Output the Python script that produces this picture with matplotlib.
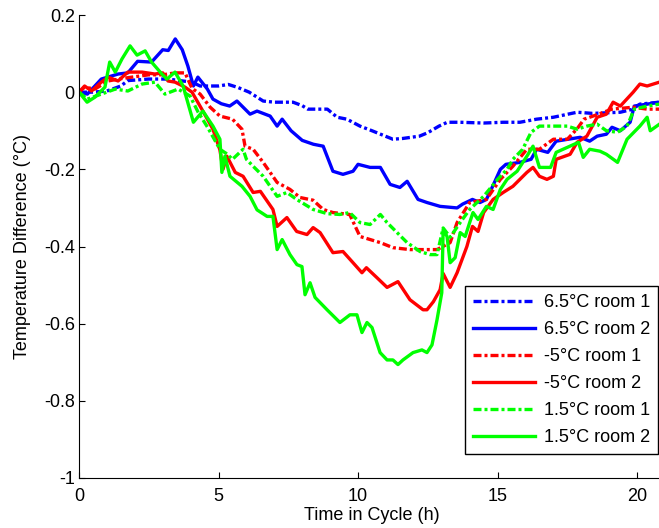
import matplotlib.pyplot as plt
from matplotlib.ticker import FormatStrFormatter

plt.rcParams['font.family'] = ['Liberation Sans', 'DejaVu Sans']

# ===== 数据=====
# 6.5°C room 1
x_b1 = [0, 0.5, 1.0, 1.5, 1.75, 2.5, 3.2, 3.6, 4.05, 4.34, 5.0, 5.35, 5.7, 6.1, 6.6, 7.0, 7.67, 8.0, 8.2,
        8.9, 9.25, 9.6, 10.07, 10.5, 11.25, 11.6, 12.2, 12.5, 12.9, 13.2, 13.65, 14.5, 15.2, 15.8, 16.4, 17.0,
        17.85, 18.4, 19.4, 19.8, 20.1, 20.8]
y_b1 = [0, 0.0, 0.003, 0.016, 0.03, 0.034, 0.034, 0.03, 0.026, 0.016, 0.016, 0.02, 0.012, 0.0, -0.023, -0.026,
        -0.026, -0.035, -0.044, -0.044, -0.065, -0.07, -0.088, -0.1, -0.122, -0.12, -0.114, -0.105, -0.088,
        -0.078, -0.078, -0.08, -0.078, -0.078, -0.07, -0.065, -0.052, -0.055, -0.052, -0.045, -0.031, -0.026]

# 6.5°C room 2
x_b2 = [0, 0.3, 0.8, 1.4, 1.75, 2.1, 2.6, 3.0, 3.2, 3.45, 3.7, 3.9, 4.1, 4.26, 4.6, 4.8, 5.1, 5.4, 5.66, 6.13,
        6.38, 6.85, 7.1, 7.28, 7.6, 8.0, 8.4, 8.75, 9.1, 9.46, 9.82, 10.0, 10.43, 10.8, 11.15, 11.5, 11.76,
        12.15, 12.47, 12.94, 13.55, 13.75, 14.1, 14.37, 14.6, 14.85, 15.1, 15.3, 15.8, 16.2, 16.4, 16.8, 17.1,
        17.96, 18.3, 18.57, 18.9, 19.1, 19.4, 19.75, 19.9, 20.36, 20.8]
y_b2 = [0, -0.005, 0.034, 0.047, 0.05, 0.08, 0.078, 0.11, 0.108, 0.138, 0.11, 0.068, 0.016, 0.039, 0.008,
        -0.018, -0.03, -0.036, -0.023, -0.057, -0.049, -0.062, -0.088, -0.07, -0.1, -0.125, -0.135, -0.14,
        -0.205, -0.213, -0.205, -0.187, -0.195, -0.195, -0.239, -0.247, -0.231, -0.278, -0.286, -0.296, -0.3,
        -0.29, -0.278, -0.286, -0.278, -0.24, -0.2, -0.187, -0.182, -0.174, -0.148, -0.156, -0.127, -0.117,
        -0.127, -0.114, -0.109, -0.091, -0.1, -0.078, -0.036, -0.031, -0.026]

# -5°C room 1
x_r1 = [0, 0.2, 0.57, 1.04, 1.5, 2.0, 2.5, 3.0, 3.44, 3.8, 4.05, 4.34, 4.7, 5.05, 5.5, 5.84, 5.95, 6.24, 6.6,
        7.1, 7.56, 7.92, 8.39, 8.75, 9.1, 9.7, 10.07, 10.8, 11.25, 11.86, 12.83, 13.3, 13.55, 14.0, 14.6, 15.1,
        15.55, 16.05, 16.5, 17.0, 17.5, 17.85, 18.1, 18.5, 19.1, 19.86, 20.36, 20.8]
y_r1 = [0, 0.013, 0.008, 0.029, 0.035, 0.04, 0.045, 0.045, 0.05, 0.05, 0.01, -0.005, -0.039, -0.062, -0.07,
        -0.096, -0.14, -0.148, -0.182, -0.234, -0.252, -0.273, -0.28, -0.304, -0.312, -0.317, -0.374, -0.39,
        -0.403, -0.408, -0.408, -0.39, -0.338, -0.286, -0.278, -0.226, -0.192, -0.148, -0.148, -0.122, -0.122,
        -0.095, -0.07, -0.06, -0.044, -0.039, -0.044, -0.044]

# -5°C room 2
x_r2 = [0, 0.2, 0.45, 0.8, 1.04, 1.4, 1.75, 2.26, 2.72, 3.0, 3.19, 3.44, 3.8, 4.05, 4.4, 4.8, 5.05, 5.16, 5.3,
        5.6, 5.88, 6.24, 6.5, 6.95, 7.1, 7.45, 7.8, 8.17, 8.39, 8.64, 9.1, 9.46, 9.82, 10.14, 10.3, 10.68, 11.04,
        11.43, 11.86, 12.33, 12.47, 12.7, 12.94, 13.05, 13.3, 13.55, 13.9, 14.1, 14.3, 14.5, 14.84, 15.2, 15.55,
        16.05, 16.27, 16.5, 16.77, 17.0, 17.1, 17.6, 17.85, 18.2, 18.57, 18.9, 19.14, 19.4, 19.86, 20.1, 20.36,
        20.8]
y_r2 = [0, 0.016, 0.003, 0.026, 0.039, 0.029, 0.052, 0.052, 0.047, 0.05, 0.029, 0.026, 0.013, 0.0, -0.044,
        -0.096, -0.15, -0.2, -0.166, -0.208, -0.218, -0.26, -0.257, -0.304, -0.348, -0.325, -0.361, -0.369,
        -0.351, -0.364, -0.416, -0.413, -0.442, -0.468, -0.455, -0.481, -0.506, -0.491, -0.538, -0.564, -0.564,
        -0.543, -0.512, -0.47, -0.506, -0.468, -0.4, -0.348, -0.361, -0.312, -0.278, -0.26, -0.244, -0.208,
        -0.195, -0.218, -0.226, -0.218, -0.174, -0.161, -0.13, -0.114, -0.065, -0.057, -0.026, -0.036, 0.0,
        0.021, 0.016, 0.026]

# 1.5°C room 1
x_g1 = [0, 0.3, 0.8, 1.3, 1.75, 2.26, 2.72, 3.08, 3.55, 3.98, 4.27, 4.6, 5.05, 5.3, 5.5, 5.88, 6.0, 6.24, 6.6,
        7.1, 7.45, 7.8, 8.39, 8.9, 9.35, 9.7, 10.07, 10.43, 10.8, 11.04, 11.4, 11.76, 12.22, 12.58, 12.83, 13.05,
        13.3, 13.66, 14.0, 14.5, 15.0, 15.34, 15.55, 15.9, 16.2, 16.5, 17.0, 17.5, 17.85, 18.2, 18.57, 18.9,
        19.3, 19.64, 19.9, 20.36, 20.8]
y_g1 = [0, -0.018, -0.005, 0.008, 0.003, 0.021, 0.026, -0.005, 0.008, -0.01, -0.052, -0.09, -0.148, -0.16,
        -0.174, -0.148, -0.174, -0.192, -0.218, -0.27, -0.26, -0.278, -0.304, -0.315, -0.317, -0.312, -0.338,
        -0.343, -0.317, -0.338, -0.364, -0.39, -0.413, -0.421, -0.421, -0.352, -0.376, -0.338, -0.304, -0.27,
        -0.226, -0.2, -0.174, -0.148, -0.104, -0.088, -0.088, -0.088, -0.096, -0.088, -0.083, -0.1, -0.104,
        -0.088, -0.044, -0.036, -0.031]

# 1.5°C room 2
x_g2 = [0, 0.29, 0.57, 0.93, 1.1, 1.3, 1.54, 1.83, 2.08, 2.37, 2.6, 2.97, 3.15, 3.44, 3.73, 4.1, 4.44, 4.8,
        5.05, 5.12, 5.23, 5.41, 5.84, 6.13, 6.38, 6.74, 6.95, 7.1, 7.28, 7.56, 7.81, 7.99, 8.1, 8.28, 8.46, 8.89,
        9.35, 9.71, 9.96, 10.14, 10.32, 10.5, 10.79, 11.04, 11.25, 11.43, 11.61, 11.97, 12.29, 12.47, 12.65,
        12.83, 13.0, 13.05, 13.19, 13.3, 13.48, 13.66, 13.84, 14.0, 14.12, 14.3, 14.6, 14.84, 15.1, 15.34, 15.7,
        16.05, 16.27, 16.5, 16.9, 17.1, 17.5, 17.9, 18.07, 18.3, 18.67, 18.9, 19.3, 19.64, 20.1, 20.36, 20.47,
        20.8]
y_g2 = [0, -0.026, -0.013, 0.013, 0.078, 0.052, 0.086, 0.12, 0.096, 0.107, 0.078, 0.047, 0.034, 0.052, 0.016,
        -0.078, -0.049, -0.088, -0.122, -0.208, -0.166, -0.218, -0.244, -0.27, -0.305, -0.322, -0.322, -0.408,
        -0.382, -0.421, -0.447, -0.452, -0.525, -0.494, -0.532, -0.564, -0.597, -0.577, -0.577, -0.623, -0.597,
        -0.61, -0.675, -0.694, -0.694, -0.706, -0.694, -0.675, -0.668, -0.675, -0.655, -0.59, -0.52, -0.356,
        -0.374, -0.442, -0.429, -0.364, -0.374, -0.338, -0.312, -0.33, -0.296, -0.304, -0.252, -0.226, -0.205,
        -0.166, -0.14, -0.195, -0.195, -0.156, -0.143, -0.13, -0.169, -0.148, -0.153, -0.161, -0.182, -0.122,
        -0.088, -0.065, -0.1, -0.083]

labels = ['6.5°C room 1', '6.5°C room 2', '-5°C room 1', '-5°C room 2', '1.5°C room 1', '1.5°C room 2']
x_ticks = [0, 5, 10, 15, 20]
y_ticks = [-1, -0.8, -0.6, -0.4, -0.2, 0, 0.2]

# ===== 绘图 =====
W, H = 659, 528
fig = plt.figure(figsize=(W / 100, H / 100), dpi=100)
ax = fig.add_axes([79 / W, 50 / H, 586 / W, 463 / H])

dashdot = (0, (2.4, 0.9, 0.9, 0.9))
lw = 2.4
fs = 13
series = [
    (x_b1, y_b1, 'blue', dashdot),
    (x_b2, y_b2, 'blue', '-'),
    (x_r1, y_r1, 'red', dashdot),
    (x_r2, y_r2, 'red', '-'),
    (x_g1, y_g1, 'lime', dashdot),
    (x_g2, y_g2, 'lime', '-'),
]
for (xs, ys, c, ls), lab in zip(series, labels):
    ax.plot(xs, ys, color=c, linestyle=ls, linewidth=lw, label=lab)

ax.set_xlim(0, 21)
ax.set_ylim(-1, 0.2)
ax.set_xticks(x_ticks)
ax.set_yticks(y_ticks)
ax.yaxis.set_major_formatter(FormatStrFormatter('%g'))
ax.tick_params(direction='in', length=4, labelsize=fs, width=0.8, pad=3)
ax.tick_params(axis='x', pad=7)
ax.spines['top'].set_visible(False)
ax.spines['right'].set_visible(False)
for s in ['left', 'bottom']:
    ax.spines[s].set_linewidth(0.8)

ax.set_xlabel('Time in Cycle (h)', fontsize=fs, labelpad=2)
ax.set_ylabel('Temperature Difference (°C)', fontsize=fs, labelpad=9)

# 图例放在右下角
leg = ax.legend(loc='lower right', bbox_to_anchor=(658 / W, 74 / H), bbox_transform=fig.transFigure,
                fontsize=fs, fancybox=False, framealpha=1, edgecolor='black', borderaxespad=0,
                handlelength=3.4, handletextpad=0.5, labelspacing=0.55, borderpad=0.45)
leg.get_frame().set_linewidth(1.0)

fig.savefig('out.png', dpi=100)
